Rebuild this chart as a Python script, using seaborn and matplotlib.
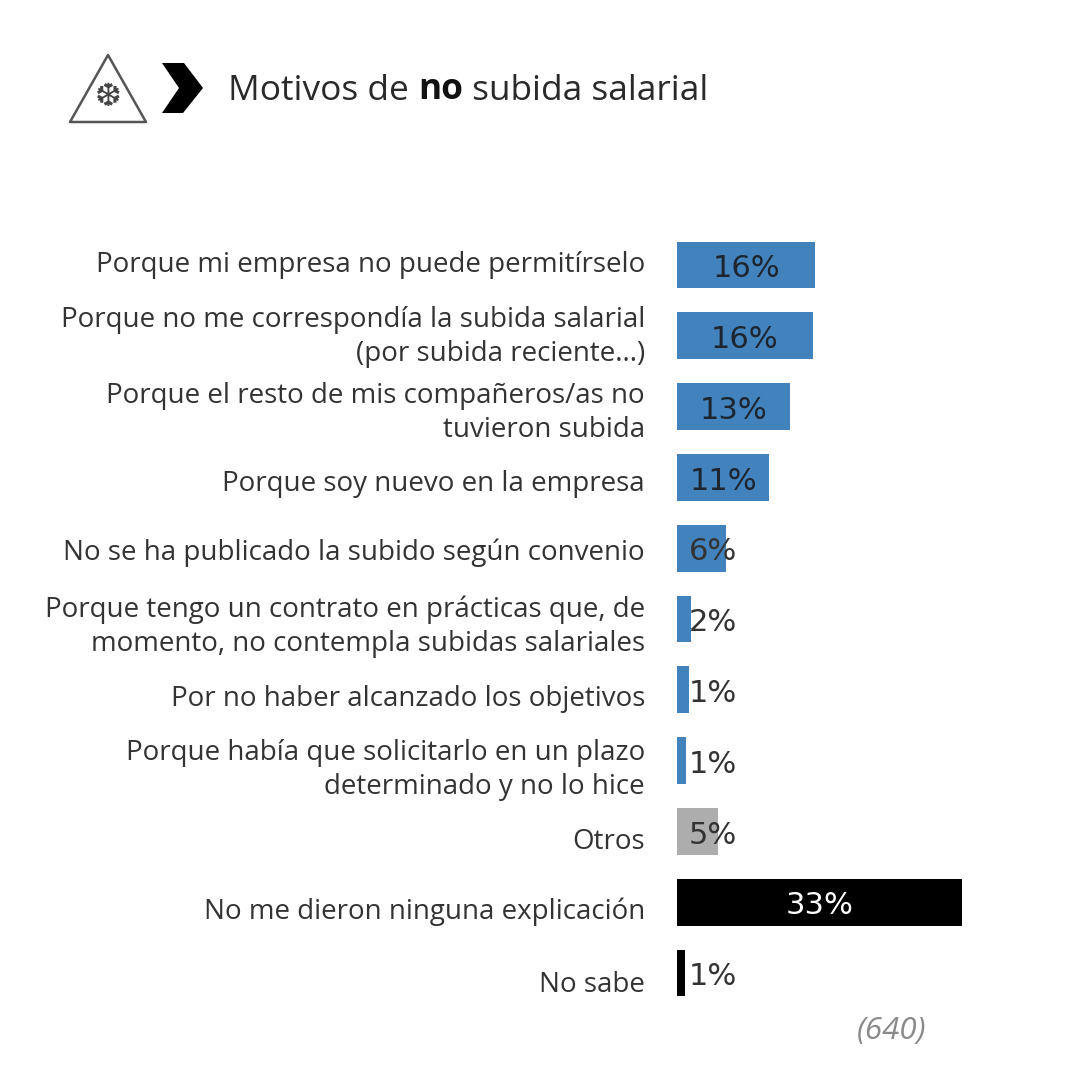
import matplotlib
matplotlib.use('Agg')
import matplotlib.pyplot as plt
from matplotlib.patches import Polygon
import pandas as pd
import seaborn as sns

# Datos
motivos = [
    "Porque mi empresa no puede permitírselo",
    "Porque no me correspondía la subida salarial\n(por subida reciente...)",
    "Porque el resto de mis compañeros/as no\ntuvieron subida",
    "Porque soy nuevo en la empresa",
    "No se ha publicado la subido según convenio",
    "Porque tengo un contrato en prácticas que, de\nmomento, no contempla subidas salariales",
    "Por no haber alcanzado los objetivos",
    "Porque había que solicitarlo en un plazo\ndeterminado y no lo hice",
    "Otros",
    "No me dieron ninguna explicación",
    "No sabe",
]
valores = [16.0, 15.7, 13.1, 10.7, 5.7, 1.6, 1.4, 1.0, 4.8, 33.0, 0.9]
etiquetas = ["16%", "16%", "13%", "11%", "6%", "2%", "1%", "1%", "5%", "33%", "1%"]
grupos = ["motivo"] * 8 + ["otros", "sin_explicacion", "sin_explicacion"]
colores = {"motivo": "#4283BD", "otros": "#ADADAD", "sin_explicacion": "#000000"}

W, H = 1073, 1089
sns.set_theme(style="white")
plt.rcParams['font.family'] = ['Open Sans', 'DejaVu Sans']

df = pd.DataFrame({"motivo": motivos, "valor": valores, "grupo": grupos})

fig = plt.figure(figsize=(W / 100, H / 100), dpi=100, facecolor="white")
# eje en pixeles de la imagen: barras desde x=677, escala 8.64 px por punto
ax = fig.add_axes([677 / W, 1 - 1008.4 / H, 345.6 / W, 778.8 / H])
sns.barplot(data=df, y="motivo", x="valor", hue="grupo", palette=colores,
            dodge=False, width=0.66, saturation=1, linewidth=0, legend=False,
            ax=ax, orient="h")
ax.set_xlim(0, 40)
ax.set_ylim(10.5, -0.5)
ax.set_xlabel("")
ax.set_ylabel("")
ax.set_xticks([])
ax.set_yticks([])
sns.despine(ax=ax, left=True, bottom=True)

# textos de categoria, un poco desplazados respecto a la barra
desfase_texto = [0, -1.5, -6, -7, -5, -8, -9, -9.5, -11, -10, -12]
for i, (txt, dy) in enumerate(zip(motivos, desfase_texto)):
    ax.annotate(txt, xy=(0, i), xytext=(-32 * 0.72, dy * 0.72), textcoords="offset points",
                ha="right", va="center", fontsize=19.95, color="#333333", linespacing=1.28)

# etiquetas de valor
for i, (v, txt) in enumerate(zip(valores, etiquetas)):
    color = "white" if grupos[i] == "sin_explicacion" and v > 10 else "#1c2530"
    if v > 8:
        ax.annotate(txt, xy=(v / 2, i), xytext=(0, -2.6), textcoords="offset points",
                    ha="center", va="center", fontsize=22, color=color,
                    family="DejaVu Sans")
    else:
        ax.annotate(txt, xy=(0, i), xytext=(12 * 0.72, -2.6), textcoords="offset points",
                    ha="left", va="center", fontsize=22, color="#333333",
                    family="DejaVu Sans")

# base de la muestra
fig.text(892 / W, 1 - 1031 / H, "(640)", ha="center", va="center", fontsize=22.5,
         style="italic", color="#8a8a8a")

# titulo en tres trozos para la palabra en negrita
t1 = fig.text(228 / W, 1 - 87 / H, "Motivos de ", ha="left", va="center_baseline",
              fontsize=25.4, color="#2a2a2a")
t2 = ax.annotate("no", xy=(1, 0), xycoords=t1, ha="left", va="bottom", fontsize=25.4,
                 fontweight="bold", color="#111111", annotation_clip=False)
ax.annotate(" subida salarial", xy=(1, 0), xycoords=t2, ha="left", va="bottom", fontsize=25.4,
            color="#2a2a2a", annotation_clip=False)


def px(puntos):
    return [(x / W, 1 - y / H) for x, y in puntos]


# icono: triangulo con copo de nieve y flecha
fig.add_artist(Polygon(px([(108, 55), (146, 122), (70, 122)]), closed=True, fill=False,
                       edgecolor="#555555", linewidth=1.8, joinstyle="round",
                       transform=fig.transFigure))
fig.text(108 / W, 1 - 97 / H, "❆", ha="center", va="center", fontsize=23, color="#444444",
         family="DejaVu Sans")
fig.add_artist(Polygon(px([(162, 63), (184, 63), (203, 88), (183, 113), (162, 113), (179, 88)]),
                       closed=True, facecolor="black", edgecolor="none",
                       transform=fig.transFigure))

plt.savefig("out.png", dpi=100)
plt.close()
